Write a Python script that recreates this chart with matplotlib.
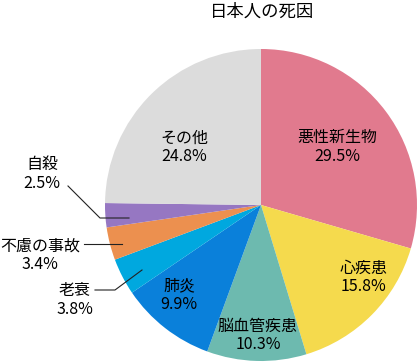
import matplotlib
matplotlib.use("Agg")
import matplotlib.pyplot as plt

plt.rcParams['font.family'] = ['Noto Sans CJK JP', 'DejaVu Sans']

# 死因の内訳 (%)
labels = ['悪性新生物', '心疾患', '脳血管疾患', '肺炎', '老衰', '不慮の事故', '自殺', 'その他']
values = [29.5, 15.8, 10.3, 9.9, 3.8, 3.4, 2.5, 24.8]
colors = ['#E17A8E', '#F5DA4D', '#6DBAAF', '#0A80DA', '#00A8DF', '#EC904F', '#9677C2', '#DCDCDC']

W, H = 417, 362
fig = plt.figure(figsize=(W / 100, H / 100), dpi=100)
ax = fig.add_axes([0, 0, 1, 1])

cx, cy, r = 261, H - 205, 156
ax.pie(values, colors=colors, startangle=90, counterclock=False,
       center=(cx, cy), radius=r, frame=True,
       wedgeprops=dict(linewidth=0))
ax.set_xlim(0, W)
ax.set_ylim(0, H)
ax.set_aspect('equal')
ax.axis('off')

def py(y):
    return H - y

fs = 11.5
# labels inside the slices
inside = {'悪性新生物': (337, 147), '心疾患': (364, 277), '脳血管疾患': (258, 335),
          '肺炎': (179, 295), 'その他': (184, 147)}
for name, (x, y) in inside.items():
    v = values[labels.index(name)]
    ax.text(x, py(y), f'{name}\n{v}%', ha='center', va='center',
            fontsize=fs, linespacing=1.1)

# labels outside with leader lines
outside = {'自殺': (42, 174), '不慮の事故': (40, 255), '老衰': (75, 300)}
for name, (x, y) in outside.items():
    v = values[labels.index(name)]
    ax.text(x, py(y), f'{name}\n{v}%', ha='center', va='center',
            fontsize=fs, linespacing=1.1)

lc = '#222222'
ax.plot([129, 100, 68], [py(218), py(218), py(186)], color=lc, lw=0.8)
ax.plot([122, 84], [py(244), py(244)], color=lc, lw=0.8)
ax.plot([142, 115, 95], [py(270), py(290), py(290)], color=lc, lw=0.8)

ax.text(262, py(12), '日本人の死因', ha='center', va='center', fontsize=12.5)

fig.savefig('out.png', dpi=100)
